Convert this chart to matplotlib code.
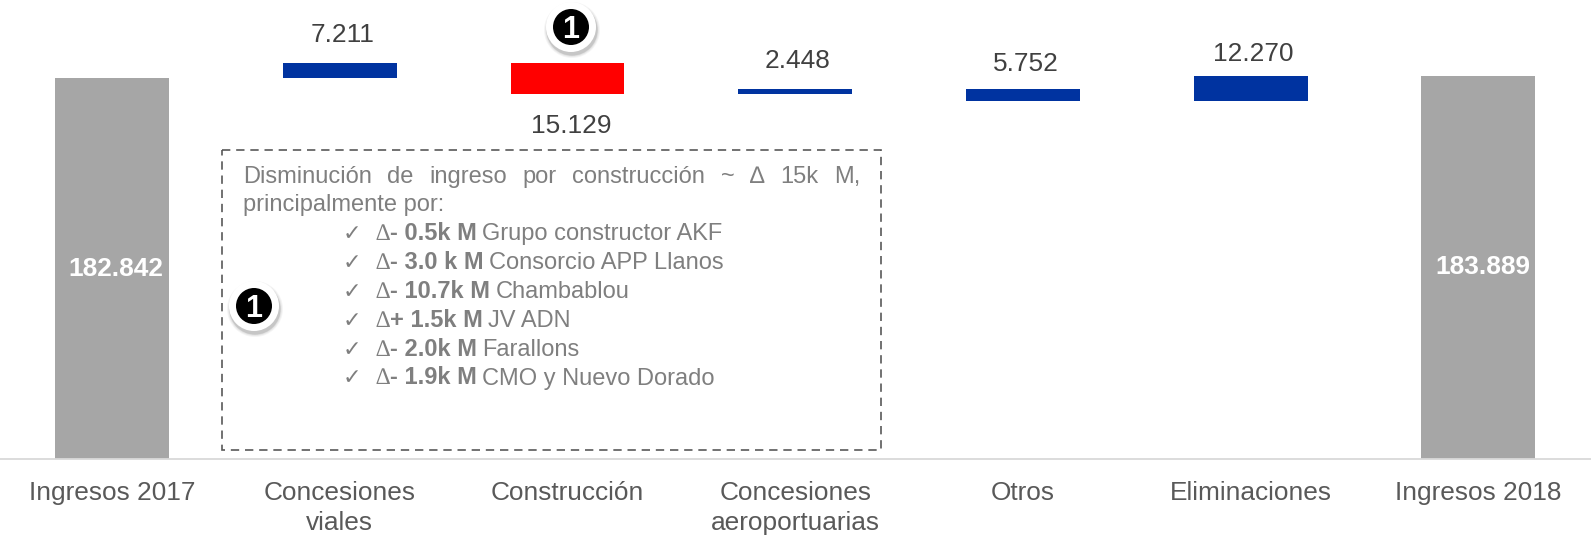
import matplotlib
matplotlib.use('Agg')
import matplotlib.pyplot as plt
from matplotlib.patches import Circle, Rectangle

plt.rcParams['font.family'] = ['Liberation Sans', 'DejaVu Sans']

# Waterfall data
categories = ['Ingresos 2017', 'Concesiones\nviales', 'Construcción', 'Concesiones\naeroportuarias',
              'Otros', 'Eliminaciones', 'Ingresos 2018']
start_total = 182842
deltas = [7211, -15129, 2448, -5752, 12270]
end_total = 183889
delta_labels = ['7.211', '15.129', '2.448', '5.752', '12.270']
start_label = '182.842'
end_label = '183.889'

# Note inside the dashed box
note_intro = ['Disminución', 'de', 'ingreso', 'por', 'construcción', '~', '∆', '15k', 'M,']
note_intro2 = 'principalmente por:'
note_bold = ['- 0.5k M', '- 3.0 k M', '- 10.7k M', '+ 1.5k M', '- 2.0k M', '- 1.9k M']
note_names = ['Grupo constructor AKF', 'Consorcio APP Llanos', 'Chambablou', 'JV ADN',
              'Farallons', 'CMO y Nuevo Dorado']

W, H = 1591, 535
BASE_Y = 459
PX_PER_UNIT = 381 / 182842

BLUE = '#0033a0'
RED = '#ff0000'
GRAY = '#a6a6a6'
NOTE = '#7f7f7f'

fig = plt.figure(figsize=(W / 100, H / 100), dpi=100)
ax = fig.add_axes([0, (H - BASE_Y) / H, 1, BASE_Y / H])
ax.set_xlim(-0.492, 6.495)
ax.set_ylim(0, BASE_Y / PX_PER_UNIT)

# Totals
ax.bar([0, 6], [start_total, end_total], width=0.5, color=GRAY)
ax.annotate(start_label, (0, start_total / 2), xytext=(3, 0), textcoords='offset points', color='white',
            fontweight='bold', fontsize=18.9, ha='center', va='center')
ax.annotate(end_label, (6, end_total / 2), xytext=(3, 0), textcoords='offset points', color='white',
            fontweight='bold', fontsize=18.9, ha='center', va='center')

# Floating bars, label gap in pixels above the bar (the red one goes below)
label_gaps = [28, 32, 28, 25, 22]
level = start_total
for i, d in enumerate(deltas):
    bottom = min(level, level + d)
    ax.bar(i + 1, abs(d), bottom=bottom, width=0.5, color=RED if i == 1 else BLUE)
    top = max(level, level + d)
    if i == 1:
        ax.annotate(delta_labels[i], (i + 1, bottom), xytext=(3, -label_gaps[i] * 0.72),
                    textcoords='offset points', ha='center', va='center', fontsize=18.9, color='#404040')
    else:
        ax.annotate(delta_labels[i], (i + 1, top), xytext=(2, label_gaps[i] * 0.72),
                    textcoords='offset points', ha='center', va='center', fontsize=18.9, color='#404040')
    level += d

ax.set_xticks(range(len(categories)))
ax.set_xticklabels(categories, fontsize=18.9, color='#595959', linespacing=1.28)
ax.tick_params(axis='x', length=0, pad=16)
ax.set_yticks([])
for side in ['top', 'left', 'right']:
    ax.spines[side].set_visible(False)
ax.spines['bottom'].set_color('#d9d9d9')
ax.spines['bottom'].set_linewidth(1.3)

# Overlay in pixel coordinates for the note box and badges
ov = fig.add_axes([0, 0, 1, 1], facecolor='none')
ov.set_xlim(0, W)
ov.set_ylim(H, 0)
ov.axis('off')

ov.add_patch(Rectangle((222, 150), 659, 299.5, fill=False, edgecolor='#595959', linewidth=1.2,
                       linestyle=(0, (5, 3.5))))

renderer = fig.canvas.get_renderer()


def put(x, y, s, **kw):
    t = ov.text(x, y, s, va='baseline', ha='left', color=NOTE, fontsize=17, **kw)
    return x + t.get_window_extent(renderer).width


# First line is justified across the box
x_left, x_right = 243, 860
probe = [ov.text(0, 0, w, fontsize=17) for w in note_intro]
widths = [p.get_window_extent(renderer).width for p in probe]
for p in probe:
    p.remove()
gap = (x_right - x_left - sum(widths)) / (len(note_intro) - 1)
x = x_left
for w, wd in zip(note_intro, widths):
    put(x, 183, w)
    x += wd + gap
put(x_left, 211, note_intro2)

for i, (b, n) in enumerate(zip(note_bold, note_names)):
    y = 240 + i * 28.9
    ov.text(343, y, '✓', family='DejaVu Sans', fontsize=16, color=NOTE, ha='left', va='baseline')
    x = put(375, y, '∆', family='Liberation Serif')
    x = put(x, y, b, fontweight='bold')
    put(x + 6, y, n)


def badge(cx, cy):
    for r, a in [(28, 0.04), (27, 0.05), (26, 0.07), (25.5, 0.08)]:
        ov.add_patch(Circle((cx + 1, cy + 3), r, color='black', alpha=a, linewidth=0))
    ov.add_patch(Circle((cx, cy), 25, color='white', linewidth=0))
    ov.add_patch(Circle((cx, cy), 18, color='black', linewidth=0))
    ov.text(cx, cy + 11, '1', color='white', fontweight='bold', fontsize=22, ha='center', va='baseline')


badge(571, 27)
badge(254, 306)

fig.savefig('out.png', dpi=100)
